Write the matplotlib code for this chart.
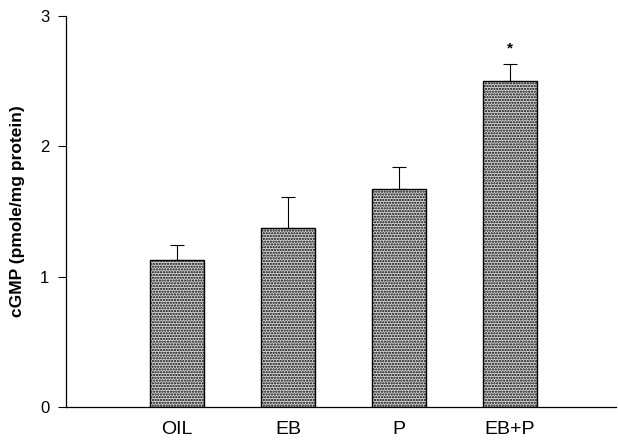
import matplotlib
matplotlib.use("Agg")
import matplotlib.pyplot as plt

categories = ["OIL", "EB", "P", "EB+P"]
means = [1.13, 1.37, 1.67, 2.50]
sems = [0.11, 0.24, 0.17, 0.13]
star_label = "*"
yticks = [0, 1, 2, 3]

plt.rcParams['font.family'] = ['Liberation Sans', 'DejaVu Sans']
plt.rcParams['hatch.color'] = '#333333'
plt.rcParams['hatch.linewidth'] = 1.1

fig = plt.figure(figsize=(6.18, 4.45), dpi=100)
ax = fig.add_axes([0.107, 0.0854, 0.89, 0.879])

x = [1, 2, 3, 4]
ax.bar(x, means, width=0.49, color='#d8d8d8', edgecolor='black', linewidth=1.0,
       hatch='......', zorder=2)
ax.errorbar(x, means, yerr=[[0]*4, sems], fmt='none', ecolor='black',
            elinewidth=0.8, capsize=5, capthick=0.8, zorder=3)
ax.text(x[3], means[3] + sems[3] + 0.12, star_label, ha='center', va='center',
        fontsize=11, fontweight='bold')

ax.set_xlim(0.0, 4.96)
ax.set_ylim(0, 3)
ax.set_yticks(yticks)
ax.set_yticklabels([str(t) for t in yticks], fontsize=12)
ax.set_xticks(x)
ax.set_xticklabels(categories, fontsize=14)
ax.tick_params(axis='x', length=0, pad=10)
ax.tick_params(axis='y', length=6, direction='out', width=0.8, pad=6)
ax.spines['top'].set_visible(False)
ax.spines['right'].set_visible(False)
ax.spines['left'].set_linewidth(0.9)
ax.spines['bottom'].set_linewidth(0.9)
ax.set_ylabel("cGMP (pmole/mg protein)", fontsize=12.5, fontweight='bold', labelpad=11)

fig.savefig("out.png", dpi=100)
